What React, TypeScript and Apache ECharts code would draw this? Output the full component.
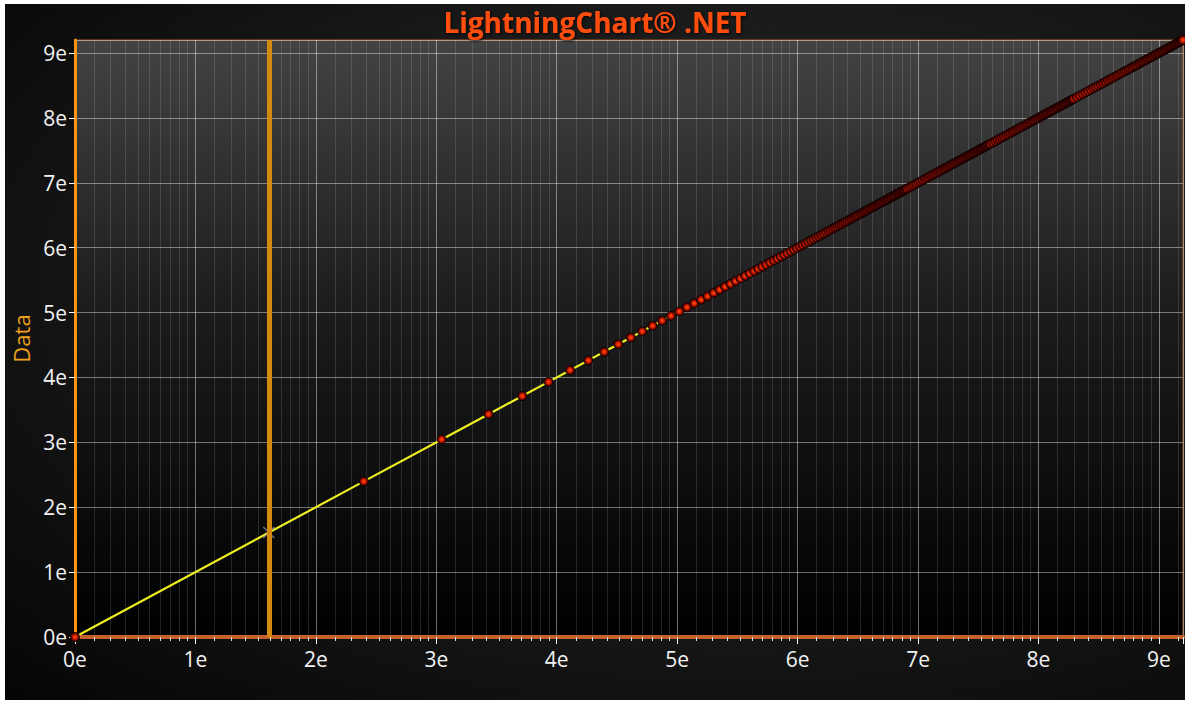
import React, { useEffect, useRef } from "react";
import * as echarts from "echarts";

// Points (x and y are equal: y = x on the natural-log axes)
const beadValues = [
  1, 11, 21, 31, 41, 51, 61, 71, 81, 91, 101, 111, 121, 131, 141, 151, 161, 171, 181, 191, 201,
  211, 221, 231, 241, 251, 261, 271, 281, 291, 301, 311, 321, 331, 341, 351, 361, 371, 381, 391,
  401, 411, 421, 431, 441, 451, 461, 471, 481, 491, 501, 511, 521, 531, 541, 551, 561, 571, 581,
  591, 601, 611, 621, 631, 641, 651, 661, 671, 681, 691, 701, 711, 721, 731, 741, 751, 761, 771,
  781, 791, 801, 811, 821, 831, 841, 851, 861, 871, 881, 891, 901, 911, 921, 931, 941, 951, 961,
  971, 981, 991, 1001,
];
const bandValuesA = [
  1021, 1041, 1061, 1081, 1101, 1121, 1141, 1161, 1181, 1201, 1221, 1241, 1261, 1281, 1301, 1321,
  1341, 1361, 1381, 1401, 1421, 1441, 1461, 1481, 1501, 1521, 1541, 1561, 1581, 1601, 1621, 1641,
  1661, 1681, 1701, 1721, 1741, 1761, 1781, 1801, 1821, 1841, 1861, 1881, 1901, 1921, 1941, 1961,
  1981, 2001,
];
const bandValuesB = [
  2041, 2081, 2121, 2161, 2201, 2241, 2281, 2321, 2361, 2401, 2441, 2481, 2521, 2561, 2601, 2641,
  2681, 2721, 2761, 2801, 2841, 2881, 2921, 2961, 3001, 3041, 3081, 3121, 3161, 3201, 3241, 3281,
  3321, 3361, 3401, 3441, 3481, 3521, 3561, 3601, 3641, 3681, 3721, 3761, 3801, 3841, 3881, 3921,
  3961, 4001,
];
const bandValuesC = [
  4101, 4201, 4301, 4401, 4501, 4601, 4701, 4801, 4901, 5001, 5101, 5201, 5301, 5401, 5501, 5601,
  5701, 5801, 5901, 6001, 6101, 6201, 6301, 6401, 6501, 6601, 6701, 6801, 6901, 7001, 7101, 7201,
  7301, 7401, 7501, 7601, 7701, 7801, 7901, 8001, 8101, 8201, 8301, 8401, 8501, 8601, 8701, 8801,
  8901, 9001, 9101, 9201, 9301, 9401, 9501, 9601, 9701, 9801, 9901,
];
const cursorX = 5;
const cursorPoint = [5, 5];
const axisMinExp = 0;
const axisMaxExp = 9.2;

const titleText = "LightningChart® .NET";
const yAxisTitle = "Data";

export default function App() {
  const ref = useRef<HTMLDivElement>(null);

  useEffect(() => {
    if (!ref.current) return;
    const chart = echarts.init(ref.current, undefined, { renderer: "svg" });
    const allValues = [...beadValues, ...bandValuesA, ...bandValuesB, ...bandValuesC];
    const points = allValues.map((v) => [v, v]);
    const fmt = (v: number) => `${Math.round(Math.log(v))}e`;
    const font = "'Open Sans', 'Noto Sans', sans-serif";

    chart.setOption({
      animation: false,
      backgroundColor: "transparent",
      title: {
        text: titleText,
        left: "center",
        top: -1,
        textStyle: {
          color: "#ff4d0d",
          fontSize: 28,
          fontWeight: "bold",
          fontFamily: font,
          textShadowColor: "rgba(0,0,0,0.9)",
          textShadowBlur: 3,
          textShadowOffsetX: 1,
          textShadowOffsetY: 1,
        },
      },
      grid: {
        left: 70,
        top: 36,
        width: 1108,
        height: 597,
        outerBoundsMode: "none",
        containLabel: false,
        show: true,
        borderColor: "#a8582a",
        borderWidth: 1,
        backgroundColor: {
          type: "linear",
          x: 0,
          y: 0,
          x2: 0,
          y2: 1,
          colorStops: [
            { offset: 0, color: "#434343" },
            { offset: 0.45, color: "#1c1c1c" },
            { offset: 1, color: "#000000" },
          ],
        },
      },
      xAxis: {
        type: "log",
        logBase: Math.E,
        min: Math.exp(axisMinExp),
        max: Math.exp(axisMaxExp),
        splitNumber: 10,
        axisLine: { show: true, lineStyle: { color: "#c4622c", width: 4 } },
        axisTick: { show: true, length: 7, lineStyle: { color: "#ffffff", width: 1 } },
        minorTick: { show: true, splitNumber: 10, length: 4, lineStyle: { color: "#e0e0e0", width: 1 } },
        splitLine: { show: true, lineStyle: { color: "rgba(255,255,255,0.42)", width: 1 } },
        minorSplitLine: { show: true, lineStyle: { color: "rgba(255,255,255,0.13)", width: 1 } },
        axisLabel: {
          color: "#f2f2f2",
          fontSize: 21,
          fontFamily: font,
          margin: 11,
          showMaxLabel: false,
          formatter: fmt,
        },
      },
      yAxis: {
        type: "log",
        logBase: Math.E,
        min: Math.exp(axisMinExp),
        max: Math.exp(axisMaxExp),
        splitNumber: 10,
        name: yAxisTitle,
        nameLocation: "middle",
        nameGap: 41,
        nameTextStyle: { color: "#f0a21e", fontSize: 22, fontFamily: font },
        axisLine: { show: true, lineStyle: { color: "#ff9410", width: 3 } },
        axisTick: { show: true, length: 6, lineStyle: { color: "#ffffff", width: 1 } },
        splitLine: { show: true, lineStyle: { color: "rgba(255,255,255,0.42)", width: 1 } },
        axisLabel: {
          color: "#f2f2f2",
          fontSize: 21,
          fontFamily: font,
          margin: 8,
          showMaxLabel: false,
          formatter: fmt,
        },
      },
      series: [
        {
          type: "line",
          z: 1,
          data: [],
          silent: true,
          markLine: {
            silent: true,
            symbol: "none",
            label: { show: false },
            lineStyle: { color: "#d4890f", width: 5, type: "solid" },
            data: [{ xAxis: cursorX }],
          },
        },
        {
          type: "line",
          z: 2,
          data: points,
          symbol: "circle",
          symbolSize: 9,
          showAllSymbol: true,
          lineStyle: { color: "#eeee22", width: 2.2 },
          itemStyle: {
            color: {
              type: "radial",
              x: 0.5,
              y: 0.5,
              r: 0.5,
              colorStops: [
                { offset: 0, color: "#ff5a14" },
                { offset: 0.45, color: "#d81c00" },
                { offset: 0.8, color: "#6a0800" },
                { offset: 1, color: "#120000" },
              ],
            },
            borderColor: "#140000",
            borderWidth: 0.8,
          },
        },
        {
          type: "scatter",
          z: 3,
          data: [cursorPoint],
          symbol: "path://M0,0L10,10M10,0L0,10",
          symbolSize: 11,
          itemStyle: { color: "transparent", borderColor: "#8a86a8", borderWidth: 1.5 },
        },
      ],
    });
    return () => chart.dispose();
  }, []);

  return (
    <div
      ref={ref}
      style={{
        position: "absolute",
        left: 5,
        top: 4,
        width: 1180,
        height: 696,
        background:
          "radial-gradient(ellipse at 62% 42%, #303030 0%, #1c1c1c 45%, #050505 100%)",
      }}
    />
  );
}
